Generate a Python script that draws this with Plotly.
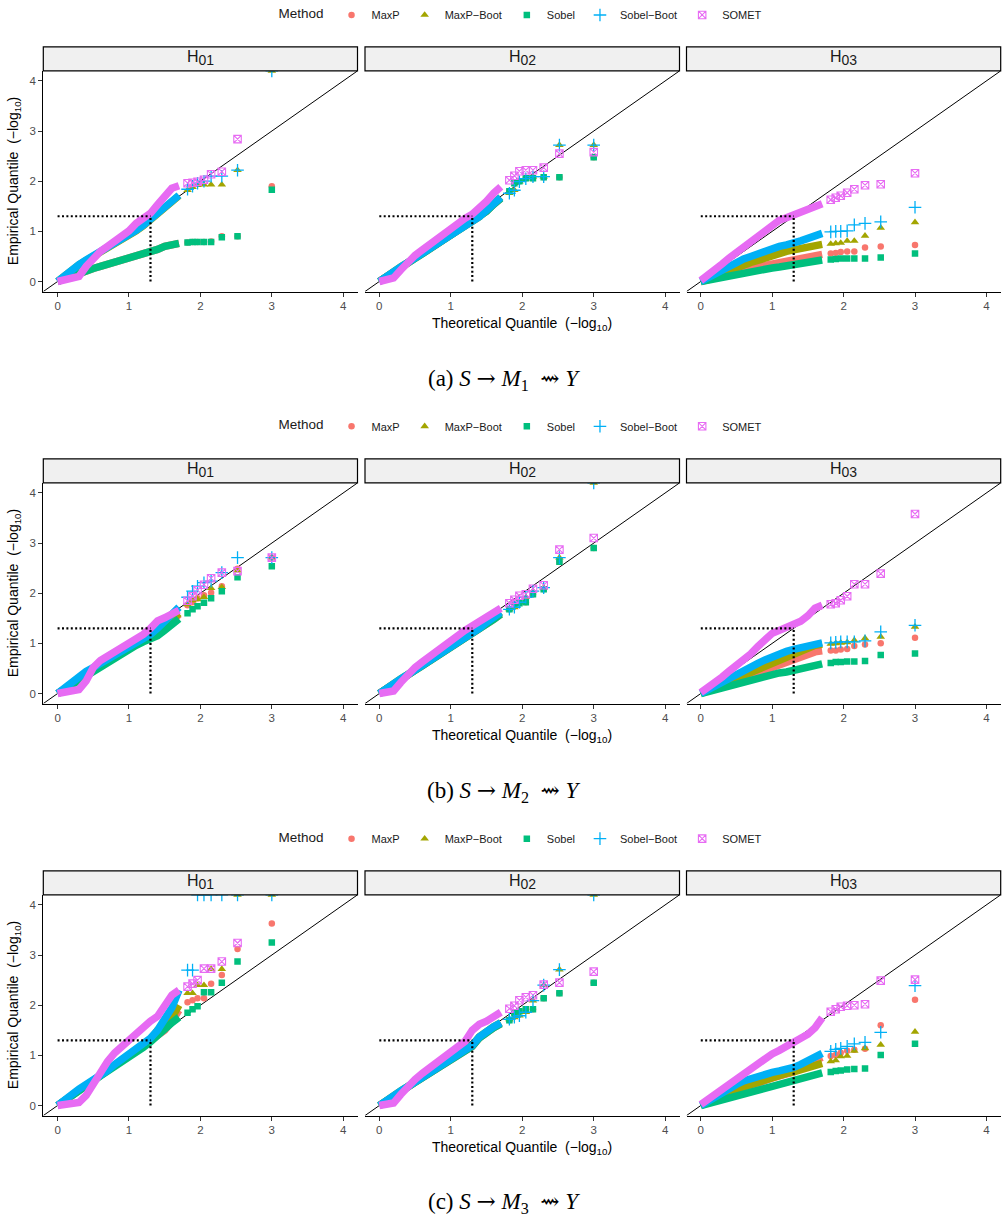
import plotly.graph_objects as go

W, H = 1008, 1223

METHODS = ["MaxP", "MaxP−Boot", "Sobel", "Sobel−Boot", "SOMET"]
COLORS = ["#F8766D", "#A3A500", "#00BF7D", "#00B0F6", "#E76BF3"]
SYMBOLS = ["circle", "triangle-up", "square", "cross-thin-open", "square-x-open"]
SIZES = [6.5, 7.5, 6.5, 9, 7.5]
LINEW = [0, 0, 0, 1.3, 1.1]

FACETS = ["H01", "H02", "H03"]
SP5 = "\u2005"
SP10 = "\u2002"
ARROW = "<span style='font-family:DejaVu Serif'>→</span>"
CAPTIONS = [
    "(" + lab + ")" + SP5 + "<i>S</i>" + SP5 + ARROW + SP5 + "<i>M</i><sub>" + idx + "</sub>" + SP10 + "⇝" + SP5 + "<i>Y</i>"
    for lab, idx in [("a", "1"), ("b", "2"), ("c", "3")]
]

# theoretical quantiles (-log10): dense part and individually visible tail points
X_DENSE = [0.0, 0.1, 0.2, 0.3, 0.4, 0.5, 0.6, 0.7, 0.8, 0.9, 1.0, 1.1, 1.2, 1.3, 1.4, 1.5, 1.6, 1.7]
X_TAIL = [1.82, 1.89, 1.96, 2.05, 2.15, 2.30, 2.52, 3.00]
AXIS_RANGE = [-0.2, 4.2]
TICKS = [0, 1, 2, 3, 4]
ALPHA_Q = 1.301  # -log10(0.05)

# ---------------- (a) S -> M1 ~> Y ----------------
a_H01_dense = {
    "MaxP":       [0, 0.06, 0.11, 0.16, 0.22, 0.26, 0.30, 0.34, 0.38, 0.42, 0.46, 0.50, 0.54, 0.58, 0.64, 0.70, 0.74, 0.76],
    "MaxP−Boot":  [0, 0.12, 0.23, 0.33, 0.42, 0.50, 0.58, 0.66, 0.74, 0.83, 0.92, 1.01, 1.11, 1.23, 1.37, 1.49, 1.59, 1.71],
    "Sobel":      [0, 0.06, 0.11, 0.16, 0.22, 0.26, 0.30, 0.34, 0.38, 0.42, 0.46, 0.50, 0.54, 0.58, 0.64, 0.70, 0.74, 0.76],
    "Sobel−Boot": [0, 0.13, 0.24, 0.34, 0.43, 0.51, 0.59, 0.67, 0.75, 0.84, 0.93, 1.02, 1.12, 1.24, 1.38, 1.50, 1.60, 1.72],
    "SOMET":      [0, 0.03, 0.05, 0.10, 0.30, 0.46, 0.60, 0.70, 0.80, 0.90, 1.01, 1.16, 1.26, 1.36, 1.53, 1.68, 1.86, 1.91],
}
a_H01_tail = {
    "MaxP":       [0.78, 0.79, 0.79, 0.79, 0.80, 0.90, 0.90, 1.90],
    "MaxP−Boot":  [1.82, 1.88, 1.92, 1.93, 1.93, 1.93, 2.22, 4.20],
    "Sobel":      [0.78, 0.79, 0.79, 0.79, 0.79, 0.88, 0.90, 1.83],
    "Sobel−Boot": [1.84, 1.90, 1.96, 2.00, 2.10, 2.10, 2.22, 4.20],
    "SOMET":      [1.96, 1.97, 1.99, 2.03, 2.14, 2.19, 2.84, None],
}
a_H02_dense = {
    "MaxP":       [0, 0.10, 0.19, 0.28, 0.37, 0.46, 0.55, 0.64, 0.73, 0.82, 0.92, 1.01, 1.10, 1.18, 1.27, 1.40, 1.54, 1.66],
    "MaxP−Boot":  [0, 0.11, 0.20, 0.29, 0.38, 0.47, 0.57, 0.66, 0.75, 0.84, 0.94, 1.03, 1.12, 1.20, 1.29, 1.42, 1.56, 1.68],
    "Sobel":      [0, 0.10, 0.19, 0.28, 0.37, 0.46, 0.55, 0.64, 0.73, 0.82, 0.92, 1.01, 1.10, 1.18, 1.27, 1.40, 1.54, 1.66],
    "Sobel−Boot": [0, 0.11, 0.20, 0.29, 0.38, 0.47, 0.57, 0.66, 0.75, 0.84, 0.94, 1.03, 1.12, 1.20, 1.29, 1.42, 1.56, 1.68],
    "SOMET":      [0, 0.03, 0.07, 0.23, 0.40, 0.52, 0.63, 0.74, 0.85, 0.96, 1.06, 1.15, 1.26, 1.34, 1.45, 1.60, 1.76, 1.89],
}
a_H02_tail = {
    "MaxP":       [1.80, 1.96, 2.00, 2.06, 2.06, 2.08, 2.08, 2.48],
    "MaxP−Boot":  [1.76, 1.82, 1.99, 2.05, 2.09, 2.09, 2.72, 2.72],
    "Sobel":      [1.80, 1.96, 2.00, 2.06, 2.06, 2.08, 2.08, 2.48],
    "Sobel−Boot": [1.76, 1.82, 1.99, 2.05, 2.09, 2.09, 2.72, 2.72],
    "SOMET":      [2.02, 2.11, 2.20, 2.22, 2.22, 2.27, 2.55, 2.58],
}
a_H03_dense = {
    "MaxP":       [0, 0.04, 0.08, 0.12, 0.16, 0.20, 0.23, 0.26, 0.29, 0.32, 0.35, 0.38, 0.41, 0.44, 0.47, 0.50, 0.52, 0.54],
    "MaxP−Boot":  [0, 0.06, 0.12, 0.18, 0.24, 0.29, 0.34, 0.38, 0.42, 0.47, 0.52, 0.56, 0.60, 0.63, 0.66, 0.70, 0.72, 0.74],
    "Sobel":      [0, 0.03, 0.06, 0.09, 0.12, 0.15, 0.17, 0.20, 0.22, 0.25, 0.27, 0.29, 0.31, 0.34, 0.37, 0.40, 0.41, 0.43],
    "Sobel−Boot": [0, 0.08, 0.16, 0.24, 0.31, 0.38, 0.45, 0.50, 0.56, 0.61, 0.66, 0.70, 0.73, 0.76, 0.81, 0.86, 0.92, 0.96],
    "SOMET":      [0.02, 0.12, 0.23, 0.35, 0.47, 0.58, 0.69, 0.81, 0.92, 1.04, 1.14, 1.22, 1.27, 1.33, 1.38, 1.43, 1.49, 1.55],
}
a_H03_tail = {
    "MaxP":       [0.56, 0.57, 0.59, 0.60, 0.60, 0.68, 0.70, 0.73],
    "MaxP−Boot":  [0.75, 0.76, 0.77, 0.81, 0.81, 0.91, 1.07, 1.18],
    "Sobel":      [0.44, 0.45, 0.46, 0.46, 0.46, 0.46, 0.48, 0.56],
    "Sobel−Boot": [0.99, 1.00, 1.00, 1.01, 1.13, 1.16, 1.19, 1.48],
    "SOMET":      [1.63, 1.67, 1.71, 1.77, 1.84, 1.92, 1.94, 2.16],
}

# ---------------- (b) S -> M2 ~> Y ----------------
b_H01_dense = {
    "MaxP":       [0, 0.10, 0.20, 0.29, 0.38, 0.47, 0.56, 0.64, 0.72, 0.81, 0.89, 0.97, 1.05, 1.12, 1.20, 1.32, 1.44, 1.58],
    "MaxP−Boot":  [0, 0.10, 0.20, 0.30, 0.39, 0.48, 0.57, 0.65, 0.73, 0.82, 0.90, 0.98, 1.06, 1.13, 1.22, 1.34, 1.46, 1.60],
    "Sobel":      [0, 0.09, 0.18, 0.27, 0.36, 0.46, 0.55, 0.63, 0.71, 0.80, 0.88, 0.96, 1.03, 1.08, 1.15, 1.26, 1.38, 1.49],
    "Sobel−Boot": [0, 0.12, 0.23, 0.34, 0.44, 0.52, 0.60, 0.68, 0.76, 0.84, 0.92, 1.00, 1.09, 1.18, 1.30, 1.45, 1.60, 1.72],
    "SOMET":      [0, 0.02, 0.03, 0.08, 0.25, 0.52, 0.66, 0.74, 0.82, 0.90, 1.00, 1.08, 1.18, 1.30, 1.45, 1.51, 1.58, 1.66],
}
b_H01_tail = {
    "MaxP":       [1.76, 1.82, 1.90, 1.96, 2.01, 2.14, 2.49, 2.71],
    "MaxP−Boot":  [1.78, 1.86, 1.88, 1.92, 2.10, 2.12, 2.45, 2.71],
    "Sobel":      [1.60, 1.68, 1.74, 1.81, 1.90, 2.04, 2.32, 2.54],
    "Sobel−Boot": [1.92, 2.04, 2.14, 2.21, 2.24, 2.41, 2.71, 2.71],
    "SOMET":      [1.85, 1.94, 2.06, 2.17, 2.30, 2.41, 2.44, 2.71],
}
b_H02_dense = {
    "MaxP":       [0, 0.10, 0.19, 0.28, 0.37, 0.46, 0.55, 0.64, 0.73, 0.82, 0.92, 1.00, 1.08, 1.18, 1.27, 1.38, 1.48, 1.58],
    "MaxP−Boot":  [0, 0.11, 0.20, 0.29, 0.38, 0.47, 0.57, 0.66, 0.75, 0.84, 0.94, 1.02, 1.10, 1.20, 1.30, 1.42, 1.52, 1.62],
    "Sobel":      [0, 0.10, 0.19, 0.28, 0.37, 0.46, 0.55, 0.64, 0.73, 0.82, 0.92, 1.00, 1.08, 1.18, 1.27, 1.38, 1.48, 1.58],
    "Sobel−Boot": [0, 0.11, 0.20, 0.29, 0.38, 0.47, 0.57, 0.66, 0.75, 0.84, 0.94, 1.02, 1.10, 1.20, 1.30, 1.42, 1.52, 1.62],
    "SOMET":      [0, 0.02, 0.05, 0.22, 0.40, 0.52, 0.63, 0.74, 0.86, 0.96, 1.07, 1.16, 1.26, 1.35, 1.43, 1.50, 1.60, 1.70],
}
b_H02_tail = {
    "MaxP":       [1.68, 1.78, 1.80, 1.82, 1.98, 2.08, 2.63, 2.90],
    "MaxP−Boot":  [1.68, 1.72, 1.82, 1.92, 2.04, 2.11, 2.71, 4.20],
    "Sobel":      [1.68, 1.78, 1.80, 1.82, 1.98, 2.08, 2.63, 2.90],
    "Sobel−Boot": [1.68, 1.72, 1.82, 1.92, 2.04, 2.11, 2.71, 4.20],
    "SOMET":      [1.80, 1.87, 1.95, 1.98, 2.09, 2.16, 2.87, 3.10],
}
b_H03_dense = {
    "MaxP":       [0, 0.05, 0.10, 0.16, 0.21, 0.26, 0.31, 0.37, 0.42, 0.48, 0.53, 0.58, 0.63, 0.68, 0.73, 0.79, 0.83, 0.85],
    "MaxP−Boot":  [0, 0.06, 0.12, 0.18, 0.24, 0.30, 0.36, 0.42, 0.48, 0.54, 0.60, 0.66, 0.71, 0.77, 0.84, 0.91, 0.96, 0.98],
    "Sobel":      [0, 0.04, 0.08, 0.12, 0.15, 0.19, 0.23, 0.27, 0.30, 0.34, 0.37, 0.41, 0.43, 0.46, 0.50, 0.54, 0.57, 0.59],
    "Sobel−Boot": [0, 0.08, 0.16, 0.24, 0.31, 0.38, 0.45, 0.52, 0.60, 0.67, 0.74, 0.79, 0.84, 0.88, 0.92, 0.96, 1.00, 1.01],
    "SOMET":      [0.02, 0.11, 0.22, 0.33, 0.45, 0.55, 0.67, 0.79, 0.94, 1.08, 1.20, 1.26, 1.32, 1.38, 1.44, 1.55, 1.70, 1.76],
}
b_H03_tail = {
    "MaxP":       [0.86, 0.86, 0.88, 0.89, 0.95, 0.98, 1.00, 1.11],
    "MaxP−Boot":  [0.99, 1.00, 1.01, 1.02, 1.06, 1.10, 1.13, 1.33],
    "Sobel":      [0.61, 0.63, 0.63, 0.64, 0.64, 0.65, 0.77, 0.80],
    "Sobel−Boot": [1.01, 1.02, 1.03, 1.03, 1.03, 1.05, 1.23, 1.36],
    "SOMET":      [1.78, 1.80, 1.86, 1.94, 2.18, 2.18, 2.39, 3.58],
}

# ---------------- (c) S -> M3 ~> Y ----------------
c_H01_dense = {
    "MaxP":       [0, 0.10, 0.19, 0.28, 0.38, 0.48, 0.58, 0.68, 0.78, 0.88, 0.98, 1.08, 1.18, 1.28, 1.38, 1.50, 1.68, 1.90],
    "MaxP−Boot":  [0, 0.10, 0.20, 0.30, 0.40, 0.50, 0.60, 0.70, 0.80, 0.90, 1.00, 1.10, 1.20, 1.30, 1.50, 1.60, 1.75, 2.00],
    "Sobel":      [0, 0.09, 0.19, 0.29, 0.39, 0.49, 0.59, 0.68, 0.78, 0.87, 0.96, 1.06, 1.16, 1.27, 1.38, 1.52, 1.65, 1.76],
    "Sobel−Boot": [0, 0.12, 0.23, 0.33, 0.42, 0.50, 0.60, 0.70, 0.82, 0.92, 1.02, 1.12, 1.22, 1.34, 1.50, 1.72, 1.95, 2.30],
    "SOMET":      [0, 0.01, 0.02, 0.06, 0.20, 0.45, 0.68, 0.88, 1.05, 1.18, 1.28, 1.44, 1.58, 1.68, 1.78, 1.99, 2.20, 2.30],
}
c_H01_tail = {
    "MaxP":       [2.06, 2.10, 2.14, 2.14, 2.43, 2.60, 3.12, 3.63],
    "MaxP−Boot":  [2.24, 2.24, 2.40, 2.40, 2.72, 2.72, 4.20, 4.20],
    "Sobel":      [1.85, 1.92, 1.98, 2.26, 2.26, 2.45, 2.87, 3.25],
    "Sobel−Boot": [2.70, 2.70, 4.20, 4.20, 4.20, 4.20, 4.20, 4.20],
    "SOMET":      [2.37, 2.43, 2.50, 2.73, 2.73, 2.87, 3.24, None],
}
c_H02_dense = {
    "MaxP":       [0, 0.10, 0.19, 0.28, 0.37, 0.46, 0.55, 0.64, 0.73, 0.82, 0.91, 1.00, 1.09, 1.18, 1.35, 1.46, 1.55, 1.63],
    "MaxP−Boot":  [0, 0.11, 0.20, 0.29, 0.38, 0.47, 0.56, 0.65, 0.74, 0.83, 0.92, 1.01, 1.10, 1.20, 1.37, 1.48, 1.57, 1.65],
    "Sobel":      [0, 0.10, 0.19, 0.28, 0.37, 0.46, 0.55, 0.64, 0.73, 0.82, 0.91, 1.00, 1.09, 1.18, 1.35, 1.46, 1.55, 1.63],
    "Sobel−Boot": [0, 0.11, 0.20, 0.29, 0.38, 0.47, 0.56, 0.65, 0.74, 0.83, 0.92, 1.01, 1.10, 1.20, 1.37, 1.48, 1.57, 1.65],
    "SOMET":      [0, 0.02, 0.05, 0.22, 0.40, 0.52, 0.64, 0.75, 0.87, 0.98, 1.08, 1.17, 1.28, 1.50, 1.62, 1.68, 1.76, 1.86],
}
c_H02_tail = {
    "MaxP":       [1.70, 1.84, 1.88, 1.92, 1.92, 2.14, 2.24, 2.45],
    "MaxP−Boot":  [1.72, 1.76, 1.79, 1.86, 2.09, 2.40, 2.71, 4.20],
    "Sobel":      [1.70, 1.84, 1.88, 1.92, 1.92, 2.14, 2.24, 2.45],
    "Sobel−Boot": [1.72, 1.76, 1.79, 1.86, 2.09, 2.40, 2.71, 4.20],
    "SOMET":      [1.93, 1.99, 2.10, 2.16, 2.20, 2.41, 2.45, 2.67],
}
c_H03_dense = {
    "MaxP":       [0, 0.06, 0.12, 0.18, 0.24, 0.29, 0.35, 0.40, 0.45, 0.50, 0.55, 0.59, 0.63, 0.67, 0.75, 0.84, 0.90, 0.96],
    "MaxP−Boot":  [0, 0.07, 0.14, 0.20, 0.26, 0.32, 0.37, 0.42, 0.47, 0.52, 0.57, 0.61, 0.64, 0.67, 0.71, 0.75, 0.79, 0.84],
    "Sobel":      [0, 0.04, 0.08, 0.12, 0.16, 0.20, 0.24, 0.28, 0.32, 0.36, 0.39, 0.43, 0.46, 0.50, 0.54, 0.58, 0.62, 0.65],
    "Sobel−Boot": [0, 0.09, 0.18, 0.26, 0.34, 0.42, 0.49, 0.54, 0.58, 0.62, 0.66, 0.69, 0.72, 0.76, 0.82, 0.90, 0.98, 1.04],
    "SOMET":      [0.02, 0.12, 0.22, 0.33, 0.44, 0.53, 0.63, 0.74, 0.85, 0.95, 1.03, 1.10, 1.18, 1.27, 1.36, 1.42, 1.55, 1.75],
}
c_H03_tail = {
    "MaxP":       [0.99, 1.01, 1.05, 1.09, 1.11, 1.13, 1.60, 2.11],
    "MaxP−Boot":  [0.88, 0.90, 0.98, 0.99, 1.09, 1.14, 1.21, 1.47],
    "Sobel":      [0.67, 0.69, 0.70, 0.72, 0.73, 0.74, 1.01, 1.23],
    "Sobel−Boot": [1.08, 1.12, 1.14, 1.18, 1.23, 1.26, 1.46, 2.39],
    "SOMET":      [1.87, 1.92, 1.97, 1.99, 2.00, 2.02, 2.49, 2.51],
}

PANELS = [
    [(a_H01_dense, a_H01_tail), (a_H02_dense, a_H02_tail), (a_H03_dense, a_H03_tail)],
    [(b_H01_dense, b_H01_tail), (b_H02_dense, b_H02_tail), (b_H03_dense, b_H03_tail)],
    [(c_H01_dense, c_H01_tail), (c_H02_dense, c_H02_tail), (c_H03_dense, c_H03_tail)],
]

# ---------------- layout geometry (pixels) ----------------
COL_PX = [(43.3, 357.5), (365.0, 679.5), (686.5, 1000.7)]
ROW_PX = [(69.0, 290.0), (481.7, 702.7), (894.3, 1115.4)]
STRIP_H = 24
LEGEND_Y = [13, 425, 838]
LEGEND_CX = 522
XTITLE_Y = [323, 735, 1148]
CAPTION_Y = [378, 791, 1202]

FONT = "Liberation Sans, Arial, Helvetica, sans-serif"
SERIF = "Liberation Serif, DejaVu Serif, serif"


def px_x(v):
    return v / W


def px_y(v):
    return 1 - v / H


fig = go.Figure()
layout = dict(
    width=W, height=H, margin=dict(l=0, r=0, t=0, b=0),
    paper_bgcolor="white", plot_bgcolor="white",
    font=dict(family=FONT, color="#1A1A1A"),
)
shapes, annotations = [], []

for r in range(3):
    legend_name = "legend" if r == 0 else f"legend{r + 1}"
    for c in range(3):
        k = r * 3 + c + 1
        xa = "xaxis" if k == 1 else f"xaxis{k}"
        ya = "yaxis" if k == 1 else f"yaxis{k}"
        xr = "x" if k == 1 else f"x{k}"
        yr = "y" if k == 1 else f"y{k}"
        x0p, x1p = COL_PX[c]
        t0p, b0p = ROW_PX[r]
        layout[xa] = dict(
            domain=[px_x(x0p), px_x(x1p)], anchor=yr, range=AXIS_RANGE,
            tickvals=TICKS, ticks="outside", ticklen=4, tickwidth=1, tickcolor="#333333",
            tickfont=dict(size=11.5, color="#4D4D4D", family=FONT),
            showline=True, linecolor="black", linewidth=1.1,
            showgrid=False, zeroline=False, fixedrange=True,
        )
        first = c == 0
        layout[ya] = dict(
            domain=[px_y(b0p), px_y(t0p)], anchor=xr, range=AXIS_RANGE,
            tickvals=TICKS, ticks="outside" if first else "", ticklen=4, tickwidth=1,
            tickcolor="#333333", showticklabels=first,
            tickfont=dict(size=11.5, color="#4D4D4D", family=FONT),
            showline=first, linecolor="black", linewidth=1.1,
            showgrid=False, zeroline=False, fixedrange=True,
        )

        # identity line
        shapes.append(dict(type="line", xref=xr, yref=yr, x0=AXIS_RANGE[0], y0=AXIS_RANGE[0],
                           x1=AXIS_RANGE[1], y1=AXIS_RANGE[1], layer="below",
                           line=dict(color="black", width=1)))

        dense, tail = PANELS[r][c]
        for i, m in enumerate(METHODS):
            fig.add_trace(go.Scatter(
                x=X_DENSE, y=dense[m], mode="lines", xaxis=xr, yaxis=yr,
                line=dict(color=COLORS[i], width=7.5), showlegend=False,
                legend=legend_name, hoverinfo="skip", cliponaxis=True,
            ))
            fig.add_trace(go.Scatter(
                x=X_TAIL, y=tail[m], mode="markers", xaxis=xr, yaxis=yr, name=m,
                marker=dict(symbol=SYMBOLS[i], size=SIZES[i], color=COLORS[i],
                            line=dict(width=LINEW[i], color=COLORS[i])),
                showlegend=(c == 0), legend=legend_name, cliponaxis=True,
            ))

        # significance reference lines (dotted)
        dot = dict(color="black", width=2.2, dash="2px,2.4px")
        shapes.append(dict(type="line", xref=xr, yref=yr, x0=0, y0=ALPHA_Q, x1=ALPHA_Q, y1=ALPHA_Q,
                           layer="above", line=dot))
        shapes.append(dict(type="line", xref=xr, yref=yr, x0=ALPHA_Q, y0=0, x1=ALPHA_Q, y1=ALPHA_Q,
                           layer="above", line=dot))

        # facet strip
        shapes.append(dict(type="rect", xref="paper", yref="paper",
                           x0=px_x(x0p), x1=px_x(x1p), y0=px_y(t0p), y1=px_y(t0p - STRIP_H),
                           fillcolor="#F0F0F0", line=dict(color="black", width=1.2), layer="above"))
        annotations.append(dict(
            xref="paper", yref="paper", x=px_x((x0p + x1p) / 2), y=px_y(t0p - STRIP_H / 2 - 1),
            text=FACETS[c][0] + "<sub><span style='font-size:14px'>" + FACETS[c][1:] + "</span></sub>",
            showarrow=False, xanchor="center", yanchor="middle",
            font=dict(size=16, color="#1A1A1A", family=FONT),
        ))

    # axis titles
    annotations.append(dict(
        xref="paper", yref="paper", x=px_x((COL_PX[1][0] + COL_PX[1][1]) / 2), y=px_y(XTITLE_Y[r]),
        text="Theoretical Quantile  (−log<sub>10</sub>)", showarrow=False,
        xanchor="center", yanchor="middle", font=dict(size=14, color="black", family=FONT),
    ))
    annotations.append(dict(
        xref="paper", yref="paper", x=px_x(14), y=px_y((ROW_PX[r][0] + ROW_PX[r][1]) / 2),
        text="Empirical Quantile  (−log<sub>10</sub>)", showarrow=False, textangle=-90,
        xanchor="center", yanchor="middle", font=dict(size=14, color="black", family=FONT),
    ))
    # caption
    annotations.append(dict(
        xref="paper", yref="paper", x=0.5, y=px_y(CAPTION_Y[r]),
        text=CAPTIONS[r], showarrow=False, xanchor="center", yanchor="middle",
        font=dict(size=23, color="black", family=SERIF),
    ))
    # legend
    layout[legend_name] = dict(
        orientation="h", x=px_x(LEGEND_CX), xanchor="center", y=px_y(LEGEND_Y[r]), yanchor="middle",
        title=dict(text="Method", side="left", font=dict(size=13.5, color="#1A1A1A", family=FONT)),
        font=dict(size=11, color="#1A1A1A", family=FONT), bgcolor="rgba(0,0,0,0)",
        itemclick=False, itemdoubleclick=False, tracegroupgap=0,
    )

layout["shapes"] = shapes
layout["annotations"] = annotations
fig.update_layout(**layout)
fig.write_html("out.html")
